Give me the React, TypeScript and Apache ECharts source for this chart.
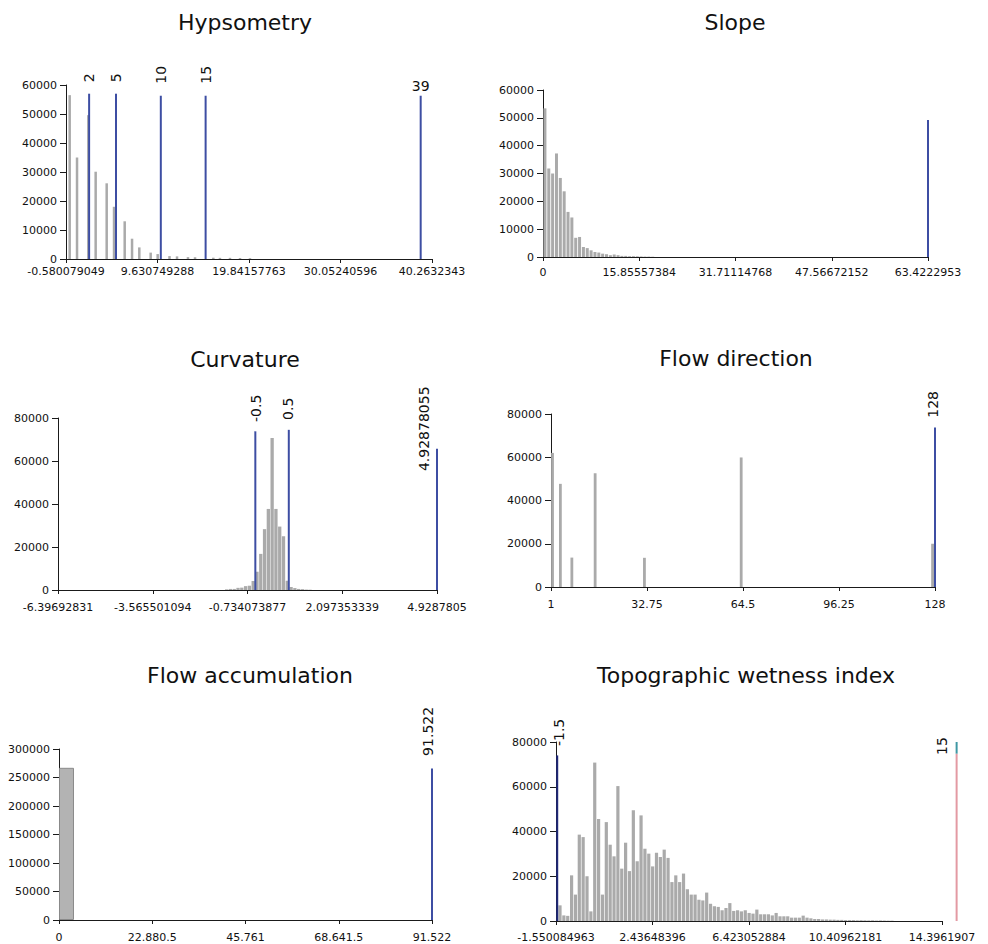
import React, { useEffect, useRef } from "react";
import * as echarts from "echarts";

// ---------------- titles ----------------
const TITLES = [
  "Hypsometry",
  "Slope",
  "Curvature",
  "Flow direction",
  "Flow accumulation",
  "Topographic wetness index",
];

// ---------------- Hypsometry ----------------
const HYPSO_TICKS = [-0.580079049, 9.630749288, 19.84157763, 30.05240596, 40.2632343];
const HYPSO_TICK_LABELS = ["-0.580079049", "9.630749288", "19.84157763", "30.05240596", "40.2632343"];
const HYPSO_BAR_X = [-0.17, 0.65, 1.91, 2.73, 3.96, 4.78, 5.97, 6.79, 7.6, 8.87, 9.65, 10.97, 11.81, 13.03, 13.82, 15.86, 16.6, 17.72, 18.84, 19.95];
const HYPSO_BAR_Y = [56500, 35000, 49600, 30100, 26100, 18000, 13000, 7000, 4000, 2200, 1700, 1000, 900, 650, 600, 450, 400, 400, 350, 300];
const HYPSO_MARK_X = [2, 5, 10, 15, 39];
const HYPSO_MARK_FROM = [0, 0, 0, 0, 0];
const HYPSO_MARK_TO = [57000, 57000, 56300, 56300, 56300];
const HYPSO_MARK_LABEL = ["2", "5", "10", "15", "39"];

// ---------------- Slope ----------------
const SLOPE_TICKS = [0, 15.85557384, 31.71114768, 47.56672152, 63.4222953];
const SLOPE_TICK_LABELS = ["0", "15.85557384", "31.71114768", "47.56672152", "63.4222953"];
const SLOPE_BIN_START = 0.317;
const SLOPE_BIN_STEP = 0.634;
const SLOPE_COUNTS = [53400, 31800, 30000, 37200, 28400, 23600, 16200, 14200, 6900, 7200, 3600, 3200, 2400, 1800, 1600, 1200, 1000, 650, 900, 650, 400, 400, 300, 300, 250, 200, 150, 150, 100];
const SLOPE_MARK_X = [63.4222953];
const SLOPE_MARK_FROM = [0];
const SLOPE_MARK_TO = [49200];
const SLOPE_MARK_LABEL = [""];

// ---------------- Curvature ----------------
const CURV_TICKS = [-6.39692831, -3.565501094, -0.734073877, 2.097353339, 4.928780554];
const CURV_TICK_LABELS = ["-6.39692831", "-3.565501094", "-0.734073877", "2.097353339", "4.9287805"];
const CURV_BIN_START = -1.357;
const CURV_BIN_STEP = 0.11326;
const CURV_COUNTS = [300, 500, 500, 1000, 1100, 1800, 2000, 4200, 8500, 16800, 28300, 37700, 70700, 37700, 29500, 25000, 4300, 1400, 900, 500, 400, 200, 150];
const CURV_MARK_X = [-0.5, 0.5, 4.928780554];
const CURV_MARK_FROM = [0, 0, 0];
const CURV_MARK_TO = [73800, 74500, 65700];
const CURV_MARK_LABEL = ["-0.5", "0.5", "4.92878055"];

// ---------------- Flow direction ----------------
const FDIR_TICKS = [1, 32.75, 64.5, 96.25, 128];
const FDIR_TICK_LABELS = ["1", "32.75", "64.5", "96.25", "128"];
const FDIR_BAR_X = [1.5, 4.1, 7.9, 15.6, 31.9, 63.9, 127.2];
const FDIR_BAR_Y = [62000, 47700, 13600, 52600, 13500, 59900, 20000];
const FDIR_MARK_X = [128];
const FDIR_MARK_FROM = [0];
const FDIR_MARK_TO = [73800];
const FDIR_MARK_LABEL = ["128"];

// ---------------- Flow accumulation ----------------
const FACC_TICKS = [0, 22880.5, 45761, 68641.5, 91522];
const FACC_TICK_LABELS = ["0", "22.880.5", "45.761", "68.641.5", "91.522"];
const FACC_BAR_X = [1840];
const FACC_BAR_Y = [267000];
const FACC_MARK_X = [91522];
const FACC_MARK_FROM = [0];
const FACC_MARK_TO = [266000];
const FACC_MARK_LABEL = ["91.522"];

// ---------------- Topographic wetness index ----------------
const TWI_TICKS = [-1.550084963, 2.43648396, 6.423052884, 10.40962181, 14.3961907];
const TWI_TICK_LABELS = ["-1.550084963", "2.43648396", "6.423052884", "10.40962181", "14.3961907"];
const TWI_BIN_START = -1.385;
const TWI_BIN_STEP = 0.15946;
const TWI_COUNTS = [
  7000, 2500, 2300, 20400, 11800, 38600, 37500, 20000, 4300, 70800,
  45600, 11800, 44200, 34100, 28900, 60300, 23400, 35000, 22300, 49500,
  26700, 47200, 32300, 30100, 24400, 30500, 28600, 31900, 28200, 17400,
  20400, 17400, 21200, 14200, 11800, 11800, 9500, 9200, 12700, 7700,
  6600, 6300, 4800, 5800, 8000, 4500, 4800, 4300, 4800, 3600,
  3300, 5100, 3000, 3000, 3000, 2500, 3600, 2100, 2100, 2100,
  1500, 1500, 1500, 2400, 1500, 1200, 900, 900, 700, 700,
  600, 600, 500, 500, 400, 400, 400, 300, 350, 300,
  250, 300, 200, 250, 200, 150, 150,
];
const TWI_MARK_X = [-1.5, 15, 15];
const TWI_MARK_FROM = [0, 0, 74800];
const TWI_MARK_TO = [74000, 74800, 80000];
const TWI_MARK_LABEL = ["-1.5", "", "15"];

// ---------------- styles / layout ----------------
const FONT = '"DejaVu Sans", Verdana, sans-serif';
const BAR_COLOR = "#aaaaaa";
const BLUE = "#3d4ea3";

type MarkStyle = { color: string; rotate: boolean; dx: number; dy: number };

type Panel = {
  title: string;
  titleX: number;
  titleY: number;
  grid: { left: number; top: number; width: number; height: number };
  xLabelMargin: number;
  ticks: number[];
  tickLabels: string[];
  yMax: number;
  yInterval: number;
  barX: number[];
  barY: number[];
  barWidth: number;
  barBorder?: boolean;
  markX: number[];
  markFrom: number[];
  markTo: number[];
  markLabel: string[];
  markStyle: MarkStyle[];
};

const binCenters = (start: number, step: number, counts: number[]) =>
  counts.map((_, i) => start + i * step);

const PANELS: Panel[] = [
  {
    title: TITLES[0], titleX: 245, titleY: 22,
    grid: { left: 66, top: 85, width: 366, height: 174 }, xLabelMargin: 7,
    ticks: HYPSO_TICKS, tickLabels: HYPSO_TICK_LABELS, yMax: 60000, yInterval: 10000,
    barX: HYPSO_BAR_X, barY: HYPSO_BAR_Y, barWidth: 2.5,
    markX: HYPSO_MARK_X, markFrom: HYPSO_MARK_FROM, markTo: HYPSO_MARK_TO, markLabel: HYPSO_MARK_LABEL,
    markStyle: [
      { color: BLUE, rotate: true, dx: 0, dy: -16 },
      { color: BLUE, rotate: true, dx: 0, dy: -16 },
      { color: BLUE, rotate: true, dx: 0, dy: -21 },
      { color: BLUE, rotate: true, dx: 0, dy: -21 },
      { color: BLUE, rotate: false, dx: 0, dy: -10 },
    ],
  },
  {
    title: TITLES[1], titleX: 735, titleY: 22,
    grid: { left: 543, top: 90, width: 385, height: 167 }, xLabelMargin: 10,
    ticks: SLOPE_TICKS, tickLabels: SLOPE_TICK_LABELS, yMax: 60000, yInterval: 10000,
    barX: binCenters(SLOPE_BIN_START, SLOPE_BIN_STEP, SLOPE_COUNTS), barY: SLOPE_COUNTS, barWidth: 3,
    markX: SLOPE_MARK_X, markFrom: SLOPE_MARK_FROM, markTo: SLOPE_MARK_TO, markLabel: SLOPE_MARK_LABEL,
    markStyle: [{ color: BLUE, rotate: true, dx: 0, dy: -20 }],
  },
  {
    title: TITLES[2], titleX: 245, titleY: 359,
    grid: { left: 58, top: 418, width: 379, height: 172 }, xLabelMargin: 12,
    ticks: CURV_TICKS, tickLabels: CURV_TICK_LABELS, yMax: 80000, yInterval: 20000,
    barX: binCenters(CURV_BIN_START, CURV_BIN_STEP, CURV_COUNTS), barY: CURV_COUNTS, barWidth: 3.3,
    markX: CURV_MARK_X, markFrom: CURV_MARK_FROM, markTo: CURV_MARK_TO, markLabel: CURV_MARK_LABEL,
    markStyle: [
      { color: BLUE, rotate: true, dx: 1, dy: -23 },
      { color: BLUE, rotate: true, dx: -1, dy: -21 },
      { color: BLUE, rotate: true, dx: -13, dy: -20 },
    ],
  },
  {
    title: TITLES[3], titleX: 736, titleY: 358,
    grid: { left: 551, top: 414, width: 384, height: 173 }, xLabelMargin: 12,
    ticks: FDIR_TICKS, tickLabels: FDIR_TICK_LABELS, yMax: 80000, yInterval: 20000,
    barX: FDIR_BAR_X, barY: FDIR_BAR_Y, barWidth: 2.8,
    markX: FDIR_MARK_X, markFrom: FDIR_MARK_FROM, markTo: FDIR_MARK_TO, markLabel: FDIR_MARK_LABEL,
    markStyle: [{ color: BLUE, rotate: true, dx: -2, dy: -23 }],
  },
  {
    title: TITLES[4], titleX: 250, titleY: 675,
    grid: { left: 59, top: 749, width: 373, height: 171 }, xLabelMargin: 12,
    ticks: FACC_TICKS, tickLabels: FACC_TICK_LABELS, yMax: 300000, yInterval: 50000,
    barX: FACC_BAR_X, barY: FACC_BAR_Y, barWidth: 15, barBorder: true,
    markX: FACC_MARK_X, markFrom: FACC_MARK_FROM, markTo: FACC_MARK_TO, markLabel: FACC_MARK_LABEL,
    markStyle: [{ color: BLUE, rotate: true, dx: -4.5, dy: -37 }],
  },
  {
    title: TITLES[5], titleX: 746, titleY: 675,
    grid: { left: 556, top: 742, width: 386, height: 179 }, xLabelMargin: 11,
    ticks: TWI_TICKS, tickLabels: TWI_TICK_LABELS, yMax: 80000, yInterval: 20000,
    barX: binCenters(TWI_BIN_START, TWI_BIN_STEP, TWI_COUNTS), barY: TWI_COUNTS, barWidth: 3.2,
    markX: TWI_MARK_X, markFrom: TWI_MARK_FROM, markTo: TWI_MARK_TO, markLabel: TWI_MARK_LABEL,
    markStyle: [
      { color: "#1f2878", rotate: true, dx: 2, dy: -23 },
      { color: "#e39aa3", rotate: true, dx: 0, dy: 0 },
      { color: "#3f98a4", rotate: true, dx: -15, dy: 4 },
    ],
  },
];

function buildOption() {
  const grid: any[] = [];
  const xAxis: any[] = [];
  const yAxis: any[] = [];
  const series: any[] = [];

  PANELS.forEach((p, i) => {
    grid.push({ ...p.grid, containLabel: false });
    const ticks = p.ticks;
    const labels = p.tickLabels;
    xAxis.push({
      type: "value",
      gridIndex: i,
      min: ticks[0],
      max: ticks[ticks.length - 1],
      axisLine: { show: true, onZero: false, lineStyle: { color: "#1a1a1a", width: 1 } },
      axisTick: { show: true, length: 4, customValues: ticks, lineStyle: { color: "#1a1a1a" } },
      axisLabel: {
        show: true,
        customValues: ticks,
        margin: p.xLabelMargin,
        color: "#111",
        fontSize: 11,
        fontFamily: FONT,
        formatter: (v: number) => {
          let best = 0;
          let bd = Infinity;
          ticks.forEach((t, k) => {
            const d = Math.abs(t - v);
            if (d < bd) { bd = d; best = k; }
          });
          return labels[best];
        },
      },
      splitLine: { show: false },
    });
    yAxis.push({
      type: "value",
      gridIndex: i,
      min: 0,
      max: p.yMax,
      interval: p.yInterval,
      axisLine: { show: true, onZero: false, lineStyle: { color: "#1a1a1a", width: 1 } },
      axisTick: { show: true, length: 6, lineStyle: { color: "#1a1a1a" } },
      axisLabel: {
        show: true,
        margin: 9,
        color: "#111",
        fontSize: 11,
        fontFamily: FONT,
        formatter: (v: number) => String(Math.round(v)),
      },
      splitLine: { show: false },
    });

    series.push({
      type: "bar",
      xAxisIndex: i,
      yAxisIndex: i,
      barWidth: p.barWidth,
      silent: true,
      z: 2,
      itemStyle: p.barBorder
        ? { color: "#b3b3b3", borderColor: "#8a8a8a", borderWidth: 1 }
        : { color: BAR_COLOR },
      data: p.barX.map((x, j) => [x, p.barY[j]]),
    });

    const styles = p.markStyle;
    const texts = p.markLabel;
    series.push({
      type: "custom",
      xAxisIndex: i,
      yAxisIndex: i,
      clip: false,
      silent: true,
      z: 5,
      encode: { x: 0, y: [1, 2] },
      data: p.markX.map((x, j) => [x, p.markFrom[j], p.markTo[j]]),
      renderItem: (params: any, api: any) => {
        const idx = params.dataIndex;
        const st = styles[idx];
        const a = api.coord([api.value(0), api.value(1)]);
        const b = api.coord([api.value(0), api.value(2)]);
        const children: any[] = [
          {
            type: "line",
            shape: { x1: a[0], y1: a[1], x2: b[0], y2: b[1] },
            style: { stroke: st.color, lineWidth: 2 },
          },
        ];
        const txt = texts[idx];
        if (txt) {
          children.push({
            type: "text",
            x: b[0] + st.dx,
            y: b[1] + st.dy,
            rotation: st.rotate ? Math.PI / 2 : 0,
            style: {
              text: txt,
              fill: "#111",
              fontSize: 14,
              fontFamily: FONT,
              align: "center",
              verticalAlign: "middle",
            },
          });
        }
        return { type: "group", children };
      },
    });
  });

  const graphic = PANELS.map((p) => ({
    type: "text",
    x: p.titleX,
    y: p.titleY,
    silent: true,
    style: {
      text: p.title,
      fill: "#111",
      fontSize: 22,
      fontFamily: FONT,
      align: "center",
      verticalAlign: "middle",
    },
  }));

  return {
    animation: false,
    backgroundColor: "#ffffff",
    grid,
    xAxis,
    yAxis,
    series,
    graphic,
  };
}

export default function App() {
  const ref = useRef<HTMLDivElement>(null);
  useEffect(() => {
    if (!ref.current) return;
    const chart = echarts.init(ref.current, undefined, { renderer: "svg" });
    chart.setOption(buildOption() as any);
    return () => chart.dispose();
  }, []);
  return (
    <div
      ref={ref}
      style={{ position: "absolute", left: 0, top: 0, width: 988, height: 944, background: "#fff" }}
    />
  );
}
